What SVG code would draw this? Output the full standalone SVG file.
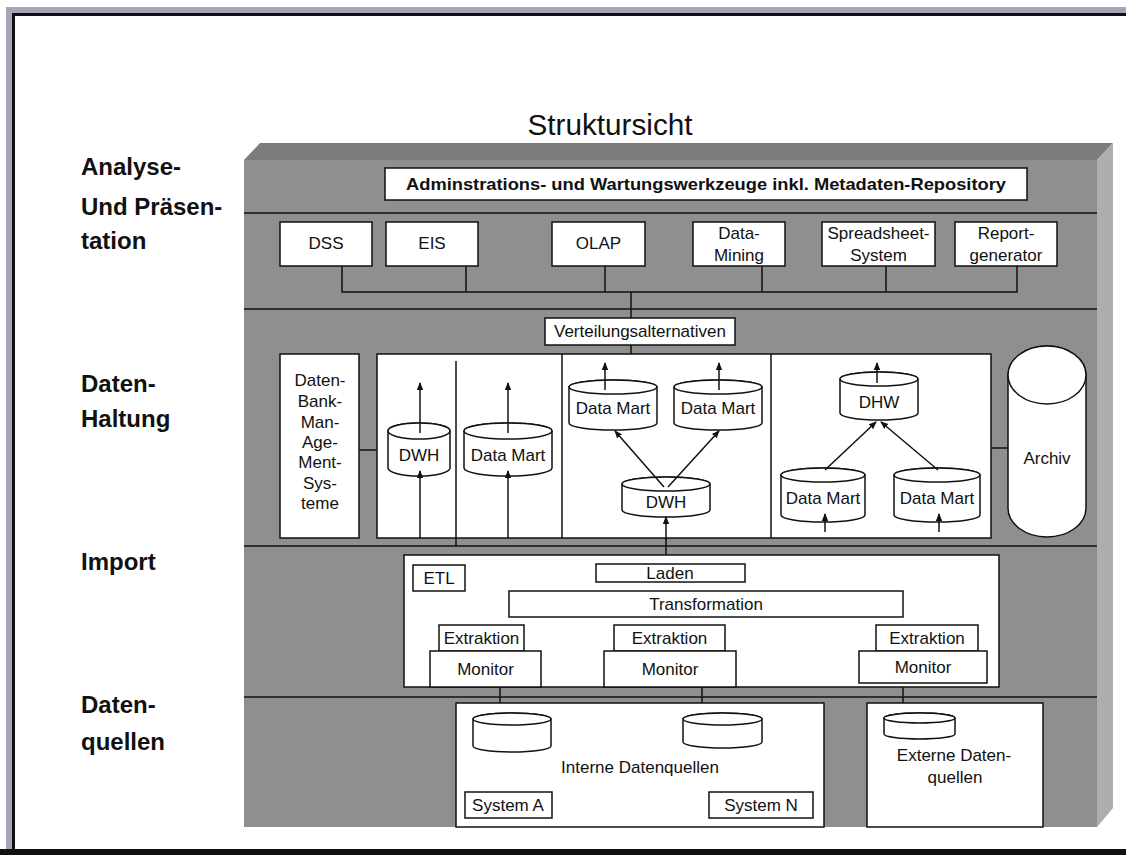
<svg xmlns="http://www.w3.org/2000/svg" width="1126" height="855" viewBox="0 0 1126 855">
  <style>
    text { font-family: "Liberation Sans", Arial, sans-serif; fill: #111; }
    .t { font-size: 17px; text-anchor: middle; }
    .lbl { font-size: 24px; font-weight: bold; }
    .box { fill: #fff; stroke: #111; stroke-width: 1.5; }
    .ln { stroke: #111; stroke-width: 1.5; fill: none; }
    .arr { stroke: #111; stroke-width: 1.5; fill: none; marker-end: url(#ah); }
    .cyl { fill: #fff; stroke: #111; stroke-width: 1.5; }
  </style>
  <defs>
    <marker id="ah" markerWidth="8" markerHeight="8" refX="7" refY="4" orient="auto" markerUnits="userSpaceOnUse">
      <path d="M0,0.8 L8,4 L0,7.2 Z" fill="#111"/>
    </marker>
  </defs>

  <!-- window frame -->
  <rect x="0" y="0" width="1126" height="855" fill="#fff"/>
  <rect x="6" y="7" width="1120" height="6" fill="#a3a6b8"/>
  <rect x="6" y="7" width="6" height="848" fill="#a3a6b8"/>
  <rect x="12" y="13" width="1114" height="3" fill="#111"/>
  <rect x="12" y="13" width="3" height="840" fill="#111"/>
  <rect x="0" y="849" width="1126" height="6" fill="#111"/>

  <!-- title and layer labels -->
  <text x="610" y="135" font-size="29" text-anchor="middle" textLength="165" lengthAdjust="spacingAndGlyphs">Struktursicht</text>
  <g id="layer-labels">
    <text class="lbl" x="81" y="175">Analyse-</text>
    <text class="lbl" x="81" y="215">Und Präsen-</text>
    <text class="lbl" x="81" y="249">tation</text>
    <text class="lbl" x="81" y="392">Daten-</text>
    <text class="lbl" x="81" y="427">Haltung</text>
    <text class="lbl" x="81" y="570">Import</text>
    <text class="lbl" x="81" y="713">Daten-</text>
    <text class="lbl" x="81" y="750">quellen</text>
  </g>

  <!-- 3D block -->
  <g id="block">
    <polygon points="244,160 260,143 1113,143 1097,160" fill="#7c7c7c"/>
    <polygon points="1097,160 1113,143 1113,808 1097,827" fill="#aeaeae"/>
    <rect x="244" y="160" width="853" height="667" fill="#8f8f8f"/>
    <line class="ln" x1="244" y1="213" x2="1097" y2="213"/>
    <line class="ln" x1="244" y1="309" x2="1097" y2="309"/>
    <line class="ln" x1="244" y1="546" x2="1097" y2="546"/>
    <line class="ln" x1="244" y1="697" x2="1097" y2="697"/>
  </g>

  <!-- connectors -->
  <g id="connectors">
    <!-- tool bus -->
    <polyline class="ln" points="342,266 342,292 1017,292 1017,266"/>
    <line class="ln" x1="466" y1="266" x2="466" y2="292"/>
    <line class="ln" x1="605" y1="266" x2="605" y2="292"/>
    <line class="ln" x1="762" y1="266" x2="762" y2="292"/>
    <line class="ln" x1="886" y1="266" x2="886" y2="292"/>
    <line class="ln" x1="631" y1="292" x2="631" y2="318"/>
    <line class="ln" x1="631" y1="345" x2="631" y2="354"/>
    <!-- side links in storage layer -->
    <line class="ln" x1="359" y1="450" x2="377" y2="450"/>
    <line class="ln" x1="991" y1="448" x2="1008" y2="448"/>
    <!-- storage to ETL -->
    <line class="ln" x1="666" y1="538" x2="666" y2="555"/>
    <!-- ETL internal -->
    <line class="ln" x1="657" y1="582" x2="657" y2="591"/>
    <line class="ln" x1="518" y1="617" x2="518" y2="625"/>
    <line class="ln" x1="657" y1="617" x2="657" y2="625"/>
    <line class="ln" x1="893" y1="617" x2="893" y2="625"/>
    <!-- ETL to sources -->
    <line class="ln" x1="500" y1="687" x2="500" y2="713"/>
    <line class="ln" x1="702" y1="687" x2="702" y2="713"/>
    <line class="ln" x1="903" y1="687" x2="903" y2="713"/>
    <line class="ln" x1="526" y1="757" x2="526" y2="792"/>
    <line class="ln" x1="736" y1="748" x2="736" y2="792"/>
  </g>

  <!-- admin bar -->
  <g id="admin">
    <rect class="box" x="385" y="168" width="642" height="32"/>
    <text x="706" y="190" font-size="17" font-weight="bold" text-anchor="middle" textLength="600" lengthAdjust="spacingAndGlyphs">Adminstrations- und Wartungswerkzeuge inkl. Metadaten-Repository</text>
  </g>

  <!-- analysis tools -->
  <g id="tool-dss"><rect class="box" x="280" y="222" width="92" height="44"/><text class="t" x="326" y="249">DSS</text></g>
  <g id="tool-eis"><rect class="box" x="386" y="222" width="92" height="44"/><text class="t" x="432" y="249">EIS</text></g>
  <g id="tool-olap"><rect class="box" x="552" y="222" width="93" height="44"/><text class="t" x="598.5" y="249">OLAP</text></g>
  <g id="tool-mining"><rect class="box" x="693" y="222" width="92" height="44"/><text class="t" x="739" y="239">Data-</text><text class="t" x="739" y="261">Mining</text></g>
  <g id="tool-spreadsheet"><rect class="box" x="822" y="222" width="113" height="44"/><text class="t" x="878.5" y="239">Spreadsheet-</text><text class="t" x="878.5" y="261">System</text></g>
  <g id="tool-report"><rect class="box" x="955" y="222" width="102" height="44"/><text class="t" x="1006" y="239">Report-</text><text class="t" x="1006" y="261">generator</text></g>

  <g id="verteilung">
    <rect class="box" x="545" y="318" width="190" height="27"/>
    <text class="t" x="640" y="337">Verteilungsalternativen</text>
  </g>

  <!-- storage layer -->
  <g id="dbms">
    <rect class="box" x="280" y="354" width="79" height="184"/>
    <text class="t" x="320" y="386">Daten-</text>
    <text class="t" x="320" y="407">Bank-</text>
    <text class="t" x="320" y="428">Man-</text>
    <text class="t" x="320" y="448">Age-</text>
    <text class="t" x="320" y="468">Ment-</text>
    <text class="t" x="320" y="489">Sys-</text>
    <text class="t" x="320" y="509">teme</text>
  </g>

  <g id="storage-variants">
    <rect class="box" x="377" y="354" width="614" height="184"/>
    <line class="ln" x1="562" y1="354" x2="562" y2="538"/>
    <line class="ln" x1="771" y1="354" x2="771" y2="538"/>
    <line class="ln" x1="456" y1="361" x2="456" y2="546"/>
  </g>

  <!-- variant 1: central DWH / variant 2: independent Data Mart -->
  <g id="var1-dwh">
    <path class="cyl" d="M388,431 L388,468 A31,8 0 0 0 450,468 L450,431 A31,8 0 0 0 388,431 Z"/>
    <ellipse class="cyl" cx="419" cy="431" rx="31" ry="8"/>
    <text class="t" x="419" y="461">DWH</text>
    <line class="arr" x1="420" y1="433" x2="420" y2="383"/>
    <line class="arr" x1="420" y1="538" x2="420" y2="471"/>
  </g>
  <g id="var2-datamart">
    <path class="cyl" d="M464,431 L464,468 A44,8 0 0 0 552,468 L552,431 A44,8 0 0 0 464,431 Z"/>
    <ellipse class="cyl" cx="508" cy="431" rx="44" ry="8"/>
    <text class="t" x="508" y="461">Data Mart</text>
    <line class="arr" x1="508" y1="433" x2="508" y2="383"/>
    <line class="arr" x1="508" y1="538" x2="508" y2="471"/>
  </g>

  <!-- variant 3: DWH feeding Data Marts -->
  <g id="var3">
    <path class="cyl" d="M569,387 L569,423 A44,7 0 0 0 657,423 L657,387 A44,7 0 0 0 569,387 Z"/>
    <ellipse class="cyl" cx="613" cy="387" rx="44" ry="7"/>
    <text class="t" x="613" y="414">Data Mart</text>
    <path class="cyl" d="M674,387 L674,423 A44,7 0 0 0 762,423 L762,387 A44,7 0 0 0 674,387 Z"/>
    <ellipse class="cyl" cx="718" cy="387" rx="44" ry="7"/>
    <text class="t" x="718" y="414">Data Mart</text>
    <path class="cyl" d="M622,484 L622,510 A44,7 0 0 0 710,510 L710,484 A44,7 0 0 0 622,484 Z"/>
    <ellipse class="cyl" cx="666" cy="484" rx="44" ry="7"/>
    <text class="t" x="666" y="508">DWH</text>
    <line class="arr" x1="605" y1="390" x2="605" y2="363"/>
    <line class="arr" x1="719" y1="390" x2="719" y2="363"/>
    <line class="arr" x1="664" y1="487" x2="615" y2="431"/>
    <line class="arr" x1="668" y1="487" x2="719" y2="431"/>
    <line class="arr" x1="666" y1="540" x2="666" y2="517"/>
  </g>

  <!-- variant 4: Data Marts feeding DHW -->
  <g id="var4">
    <path class="cyl" d="M840,379 L840,413 A39,7 0 0 0 918,413 L918,379 A39,7 0 0 0 840,379 Z"/>
    <ellipse class="cyl" cx="879" cy="379" rx="39" ry="7"/>
    <text class="t" x="879" y="408">DHW</text>
    <path class="cyl" d="M781,475 L781,515 A42,7 0 0 0 865,515 L865,475 A42,7 0 0 0 781,475 Z"/>
    <ellipse class="cyl" cx="823" cy="475" rx="42" ry="7"/>
    <text class="t" x="823" y="504">Data Mart</text>
    <path class="cyl" d="M894,475 L894,515 A43,7 0 0 0 980,515 L980,475 A43,7 0 0 0 894,475 Z"/>
    <ellipse class="cyl" cx="937" cy="475" rx="43" ry="7"/>
    <text class="t" x="937" y="504">Data Mart</text>
    <line class="arr" x1="877" y1="383" x2="877" y2="363"/>
    <line class="arr" x1="825" y1="470" x2="876" y2="422"/>
    <line class="arr" x1="938" y1="470" x2="881" y2="422"/>
    <line class="arr" x1="825" y1="532" x2="825" y2="514"/>
    <line class="arr" x1="939" y1="532" x2="939" y2="514"/>
  </g>

  <g id="archiv">
    <path class="cyl" d="M1008,375 L1008,508 A39,29 0 0 0 1086,508 L1086,375 A39,29 0 0 0 1008,375 Z"/>
    <ellipse class="cyl" cx="1047" cy="375" rx="39" ry="29"/>
    <text class="t" x="1047" y="464">Archiv</text>
  </g>

  <!-- ETL -->
  <g id="etl">
    <rect class="box" x="404" y="555" width="595" height="132"/>
    <rect class="box" x="413" y="565" width="52" height="26"/>
    <text class="t" x="439" y="584">ETL</text>
  </g>
  <g id="laden"><rect class="box" x="596" y="564" width="149" height="18"/><text class="t" x="670" y="579">Laden</text></g>
  <g id="transformation"><rect class="box" x="509" y="591" width="394" height="26"/><text class="t" x="706" y="610">Transformation</text></g>
  <g id="extraktion-1"><rect class="box" x="439" y="625" width="85" height="26"/><text class="t" x="481.5" y="644">Extraktion</text></g>
  <g id="extraktion-2"><rect class="box" x="614" y="625" width="111" height="26"/><text class="t" x="669.5" y="644">Extraktion</text></g>
  <g id="extraktion-3"><rect class="box" x="876" y="625" width="102" height="26"/><text class="t" x="927" y="644">Extraktion</text></g>
  <g id="monitor-1"><rect class="box" x="430" y="651" width="111" height="36"/><text class="t" x="485.5" y="675">Monitor</text></g>
  <g id="monitor-2"><rect class="box" x="604" y="651" width="132" height="36"/><text class="t" x="670" y="675">Monitor</text></g>
  <g id="monitor-3"><rect class="box" x="859" y="651" width="128" height="32"/><text class="t" x="923" y="673">Monitor</text></g>

  <!-- data sources -->
  <g id="interne-quellen">
    <rect class="box" x="456" y="703" width="368" height="124"/>
    <text class="t" x="640" y="773">Interne Datenquellen</text>
  </g>
  <g id="source-a">
    <path class="cyl" d="M473,719 L473,746 A39,6 0 0 0 551,746 L551,719 A39,6 0 0 0 473,719 Z"/>
    <ellipse class="cyl" cx="512" cy="719" rx="39" ry="6"/>
  </g>
  <g id="source-n">
    <path class="cyl" d="M683,719 L683,742 A39.5,6 0 0 0 762,742 L762,719 A39.5,6 0 0 0 683,719 Z"/>
    <ellipse class="cyl" cx="722.5" cy="719" rx="39.5" ry="6"/>
  </g>
  <g id="system-a"><rect class="box" x="465" y="792" width="87" height="26"/><text class="t" x="508" y="811">System A</text></g>
  <g id="system-n"><rect class="box" x="709" y="792" width="104" height="26"/><text class="t" x="761" y="811">System N</text></g>
  <g id="externe-quellen">
    <rect class="box" x="867" y="703" width="176" height="124"/>
    <path class="cyl" d="M884,718 L884,734 A35.5,5 0 0 0 955,734 L955,718 A35.5,5 0 0 0 884,718 Z"/>
    <ellipse class="cyl" cx="919.5" cy="718" rx="35.5" ry="5"/>
    <text class="t" x="954" y="761">Externe Daten-</text>
    <text class="t" x="955" y="783">quellen</text>
  </g>
</svg>
